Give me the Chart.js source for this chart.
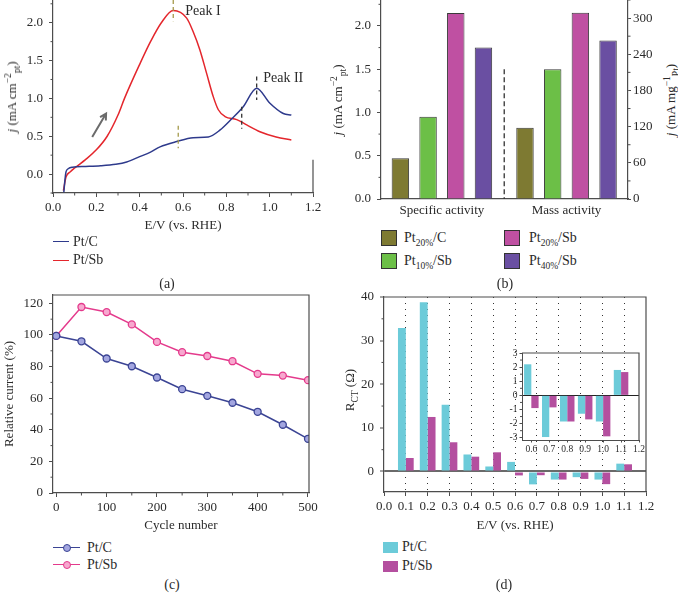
<!DOCTYPE html>
<html>
<head>
<meta charset="utf-8">
<title>Pt/Sb catalyst panels</title>
<script src="https://cdn.jsdelivr.net/npm/chart.js@4.4.1/dist/chart.umd.min.js"></script>
<style>
  body { margin: 0; background: #fff; }
  #fig { position: relative; width: 678px; height: 605px; overflow: hidden;
         font-family: 'Liberation Serif', 'DejaVu Serif', serif; color: #2b2b2b; }
  #fig canvas { position: absolute; }
  .lbl { position: absolute; white-space: nowrap; font-size: 14px; line-height: 16px; height: 16px; }
  .ytl { position: absolute; white-space: nowrap; font-size: 13px; line-height: 16px;
         transform: translate(-50%, -50%) rotate(-90deg); }
  .cap { position: absolute; font-size: 14px; transform: translate(-50%, -50%); }
  .sw { position: absolute; box-sizing: border-box; }
  sub, sup { font-size: 9.5px; line-height: 0; }
</style>
</head>
<body>
<div id="fig">
  <canvas id="chartA" width="330" height="236" style="left:0;top:0"></canvas>
  <canvas id="chartB" width="310" height="222" style="left:350px;top:0"></canvas>
  <canvas id="chartC" width="330" height="245" style="left:0;top:290px"></canvas>
  <canvas id="chartD" width="320" height="245" style="left:340px;top:290px"></canvas>
  <canvas id="chartInset" width="145" height="110" style="left:500px;top:345px"></canvas>

  <!-- axis titles with sub/superscripts -->
  <div class="ytl" style="left:12px;top:97px"><i>j</i> (mA cm<sup>−2</sup><sub>pt</sub>)</div>
  <div class="ytl" style="left:338px;top:100px"><i>j</i> (mA cm<sup>−2</sup><sub>pt</sub>)</div>
  <div class="ytl" style="left:671px;top:100px"><i>j</i> (mA mg<sup>−1</sup><sub>Pt</sub>)</div>
  <div class="ytl" style="left:350px;top:390px">R<sub>CT</sub> (Ω)</div>

  <!-- legend (a) -->
  <div class="sw" style="left:53px;top:241px;width:16px;height:0;border-top:1.5px solid #2e3a8c"></div>
  <div class="lbl" style="left:73px;top:234px">Pt/C</div>
  <div class="sw" style="left:53px;top:260px;width:16px;height:0;border-top:1.5px solid #e4262c"></div>
  <div class="lbl" style="left:73px;top:252px">Pt/Sb</div>

  <!-- legend (b) -->
  <div class="sw" style="left:381px;top:230px;width:16px;height:16px;background:#7e7a32;border:1px solid #333"></div>
  <div class="lbl" style="left:404px;top:230px">Pt<sub>20%</sub>/C</div>
  <div class="sw" style="left:381px;top:253px;width:16px;height:16px;background:#6cbf47;border:1px solid #333"></div>
  <div class="lbl" style="left:404px;top:253px">Pt<sub>10%</sub>/Sb</div>
  <div class="sw" style="left:504px;top:230px;width:16px;height:16px;background:#bf50a2;border:1px solid #333"></div>
  <div class="lbl" style="left:529px;top:230px">Pt<sub>20%</sub>/Sb</div>
  <div class="sw" style="left:504px;top:253px;width:16px;height:16px;background:#6a4fa2;border:1px solid #333"></div>
  <div class="lbl" style="left:529px;top:253px">Pt<sub>40%</sub>/Sb</div>

  <!-- legend (c) -->
  <div class="sw" style="left:53px;top:547px;width:27px;height:0;border-top:1.5px solid #3b4494"></div>
  <div class="sw" style="left:63px;top:544px;width:8px;height:8px;border-radius:50%;background:#a3a6e0;border:1.3px solid #3b4494"></div>
  <div class="lbl" style="left:87px;top:540px">Pt/C</div>
  <div class="sw" style="left:53px;top:564px;width:27px;height:0;border-top:1.5px solid #e43a8c"></div>
  <div class="sw" style="left:63px;top:561px;width:8px;height:8px;border-radius:50%;background:#f7a8cf;border:1.3px solid #e43a8c"></div>
  <div class="lbl" style="left:87px;top:557px">Pt/Sb</div>

  <!-- legend (d) -->
  <div class="sw" style="left:383px;top:542px;width:15px;height:11px;background:#6ccbd9"></div>
  <div class="lbl" style="left:402px;top:539px">Pt/C</div>
  <div class="sw" style="left:383px;top:561px;width:15px;height:11px;background:#b44f9f"></div>
  <div class="lbl" style="left:402px;top:558px">Pt/Sb</div>

  <!-- captions -->
  <div class="cap" style="left:167px;top:284px">(a)</div>
  <div class="cap" style="left:505px;top:284px">(b)</div>
  <div class="cap" style="left:172px;top:585px">(c)</div>
  <div class="cap" style="left:504px;top:585px">(d)</div>
</div>

<script>
// ---------- data ----------
// (a) linear sweep, E (V vs RHE) and j (mA cm-2 Pt)
var sweepPtC_E = [0.05, 0.055, 0.06, 0.07, 0.09, 0.15, 0.22, 0.29, 0.34, 0.4, 0.45, 0.494, 0.571, 0.647, 0.717, 0.77, 0.825, 0.878, 0.94, 1.0, 1.063, 1.1];
var sweepPtC_J = [-0.24, -0.08, 0.03, 0.07, 0.09, 0.1, 0.11, 0.13, 0.16, 0.23, 0.29, 0.36, 0.43, 0.48, 0.49, 0.58, 0.73, 0.89, 1.135, 0.94, 0.8, 0.78];
var sweepPtSb_E = [0.048, 0.06, 0.08, 0.1, 0.15, 0.2, 0.25, 0.3, 0.33, 0.4, 0.45, 0.5, 0.555, 0.617, 0.647, 0.678, 0.709, 0.74, 0.763, 0.794, 0.848, 0.894, 0.955, 1.03, 1.1];
var sweepPtSb_J = [-0.22, -0.04, 0.03, 0.08, 0.19, 0.32, 0.5, 0.78, 1.0, 1.45, 1.75, 2.0, 2.16, 2.06, 1.88, 1.64, 1.33, 1.02, 0.85, 0.76, 0.72, 0.65, 0.56, 0.49, 0.45];
// peak markers (dashed) and labels
var peakLineE = [0.555, 0.578, 0.871, 0.94];
var peakLineTop = [2.3, 0.64, 0.89, 1.29];
var peakLineBottom = [2.02, 0.34, 0.6, 0.98];
var peakNames = ['Peak I', 'Peak II'];
var peakNameE = [0.61, 0.97];
var peakNameJ = [2.15, 1.27];
var arrowE = [0.181, 0.245];
var arrowJ = [0.49, 0.8];

// (b) activities
var groupNames = ['Specific activity', 'Mass activity'];
var materials = ['Pt20%/C', 'Pt10%/Sb', 'Pt20%/Sb', 'Pt40%/Sb'];
var specificJ = [0.47, 0.95, 2.15, 1.75];   // mA cm-2 Pt
var massJ = [118, 215, 309, 263];           // mA mg-1 Pt
var dividerTop = 1.5;

// (c) stability
var cycles = [0, 50, 100, 150, 200, 250, 300, 350, 400, 450, 500];
var relPtC = [99.4, 96.0, 85.1, 80.2, 73.1, 65.7, 61.5, 57.1, 51.4, 43.2, 34.3];
var relPtSb = [99.4, 117.7, 114.5, 106.7, 95.6, 89.1, 86.7, 83.4, 75.4, 74.3, 71.4];

// (d) charge-transfer resistance
var potentials = [0.1, 0.2, 0.3, 0.4, 0.5, 0.6, 0.7, 0.8, 0.9, 1.0, 1.1];
var rctPtC = [32.9, 38.8, 15.3, 3.9, 1.15, 2.2, -2.95, -1.85, -1.3, -1.85, 1.8];
var rctPtSb = [3.1, 12.5, 6.7, 3.4, 4.4, -0.9, -0.85, -1.85, -1.7, -2.9, 1.65];

// ---------- helpers ----------
var SERIF = "'Liberation Serif', 'DejaVu Serif', serif";
var AX = '#4d4d4d';
var TXT = '#2b2b2b';
Chart.defaults.font.family = SERIF;
Chart.defaults.font.size = 13;
Chart.defaults.color = TXT;

function pts(xs, ys) {
  return xs.map(function(x, i) { return {x: x, y: ys[i]}; });
}

// fixed axis box size so the plot area lands where the figure has it
function fix(size) {
  return function(s) {
    if (s.isHorizontal()) s.height = size; else s.width = size;
    s.paddingLeft = 0; s.paddingRight = 0; s.paddingTop = 0; s.paddingBottom = 0;
  };
}

// ticks at every multiple of step inside the range
function stepTicks(step) {
  return function(s) {
    var out = [];
    for (var i = Math.ceil(s.min / step - 1e-9); i <= Math.floor(s.max / step + 1e-9); i++) {
      out.push({value: +(i * step).toFixed(6)});
    }
    s.ticks = out;
  };
}

function axis(extra) {
  var a = {
    type: 'linear',
    offset: false,
    grid: {display: true, drawOnChartArea: false, offset: false, tickLength: 4, tickColor: AX, tickWidth: 1},
    border: {color: AX, width: 1.2},
    ticks: {padding: 6, maxRotation: 0, minRotation: 0, autoSkip: false, color: TXT}
  };
  for (var k in extra) {
    if (typeof extra[k] === 'object' && a[k] && !Array.isArray(extra[k])) {
      for (var kk in extra[k]) a[k][kk] = extra[k][kk];
    } else {
      a[k] = extra[k];
    }
  }
  return a;
}

// small outward minor ticks
function makeMinor(steps, len) {
  return {
    id: 'minorTicks',
    afterDatasetsDraw: function(chart) {
      var ctx = chart.ctx, area = chart.chartArea;
      ctx.save();
      ctx.strokeStyle = AX;
      ctx.lineWidth = 1;
      Object.keys(steps).forEach(function(id) {
        var s = chart.scales[id], step = steps[id];
        for (var i = Math.ceil(s.min / step - 1e-9); i <= Math.floor(s.max / step + 1e-9); i++) {
          var v = i * step;
          if (s.ticks.some(function(t) { return Math.abs(t.value - v) < step / 100; })) continue;
          var p = s.getPixelForValue(v);
          ctx.beginPath();
          if (s.position === 'left') { ctx.moveTo(area.left, p); ctx.lineTo(area.left - len, p); }
          else if (s.position === 'right') { ctx.moveTo(area.right, p); ctx.lineTo(area.right + len, p); }
          else { ctx.moveTo(p, area.bottom); ctx.lineTo(p, area.bottom + len); }
          ctx.stroke();
        }
      });
      ctx.restore();
    }
  };
}

// top and right frame lines
var frameTR = {
  id: 'frameTR',
  afterDatasetsDraw: function(chart) {
    var ctx = chart.ctx, a = chart.chartArea;
    ctx.save();
    ctx.strokeStyle = AX;
    ctx.lineWidth = 1.2;
    ctx.beginPath();
    ctx.moveTo(a.left, a.top);
    ctx.lineTo(a.right, a.top);
    ctx.lineTo(a.right, a.bottom);
    ctx.stroke();
    ctx.restore();
  }
};

var base = {
  responsive: false,
  animation: false,
  events: []
};
function opts(o) {
  var r = {};
  for (var k in base) r[k] = base[k];
  for (var k2 in o) r[k2] = o[k2];
  return r;
}

// ---------- (a) ----------
var sweepNotes = {
  id: 'sweepNotes',
  afterDatasetsDraw: function(chart) {
    var ctx = chart.ctx, x = chart.scales.x, y = chart.scales.y, a = chart.chartArea;
    var dashColors = ['#a59b4c', '#a59b4c', '#333', '#333'];
    ctx.save();
    ctx.lineWidth = 1.3;
    ctx.setLineDash([4, 3]);
    peakLineE.forEach(function(e, i) {
      ctx.strokeStyle = dashColors[i];
      ctx.beginPath();
      ctx.moveTo(x.getPixelForValue(e), y.getPixelForValue(peakLineTop[i]));
      ctx.lineTo(x.getPixelForValue(e), y.getPixelForValue(peakLineBottom[i]));
      ctx.stroke();
    });
    ctx.setLineDash([]);
    ctx.fillStyle = TXT;
    ctx.font = '14px ' + SERIF;
    ctx.textBaseline = 'middle';
    peakNames.forEach(function(n, i) {
      ctx.fillText(n, x.getPixelForValue(peakNameE[i]), y.getPixelForValue(peakNameJ[i]));
    });
    // sweep direction arrow
    var x0 = x.getPixelForValue(arrowE[0]), y0 = y.getPixelForValue(arrowJ[0]);
    var x1 = x.getPixelForValue(arrowE[1]), y1 = y.getPixelForValue(arrowJ[1]);
    var ang = Math.atan2(y1 - y0, x1 - x0);
    ctx.strokeStyle = '#6b6b6b';
    ctx.lineWidth = 2;
    ctx.beginPath();
    ctx.moveTo(x0, y0); ctx.lineTo(x1, y1);
    ctx.moveTo(x1 - 7 * Math.cos(ang - 0.5), y1 - 7 * Math.sin(ang - 0.5));
    ctx.lineTo(x1, y1);
    ctx.lineTo(x1 - 7 * Math.cos(ang + 0.5), y1 - 7 * Math.sin(ang + 0.5));
    ctx.stroke();
    // short piece of right frame
    ctx.strokeStyle = AX;
    ctx.lineWidth = 1.2;
    ctx.beginPath();
    ctx.moveTo(a.right, y.getPixelForValue(0.19));
    ctx.lineTo(a.right, a.bottom);
    ctx.stroke();
    ctx.restore();
  }
};

new Chart(document.getElementById('chartA'), {
  type: 'line',
  data: {
    datasets: [
      {label: 'Pt/C', data: pts(sweepPtC_E, sweepPtC_J), borderColor: '#2e3a8c', borderWidth: 1.5,
       pointRadius: 0, pointHoverRadius: 0, cubicInterpolationMode: 'monotone'},
      {label: 'Pt/Sb', data: pts(sweepPtSb_E, sweepPtSb_J), borderColor: '#e4262c', borderWidth: 1.5,
       pointRadius: 0, pointHoverRadius: 0, cubicInterpolationMode: 'monotone'}
    ]
  },
  options: opts({
    layout: {padding: {top: 0, right: 17, bottom: 0, left: 0}, autoPadding: false},
    plugins: {legend: {display: false}, tooltip: {enabled: false}},
    scales: {
      x: axis({min: 0, max: 1.2, afterBuildTicks: stepTicks(0.2), afterFit: fix(43),
               ticks: {padding: 3, callback: function(v) { return v.toFixed(1); }},
               title: {display: true, text: 'E/V (vs. RHE)', padding: {top: 0, bottom: 3}}}),
      y: axis({min: -0.25, max: 2.3, afterBuildTicks: stepTicks(0.5), afterFit: fix(53),
               ticks: {callback: function(v) { return v.toFixed(1); }}})
    }
  }),
  plugins: [makeMinor({x: 0.1, y: 0.25}, 2.5), sweepNotes]
});

// ---------- (b) ----------
var barColors = ['#7e7a32', '#6cbf47', '#bf50a2', '#6a4fa2'];
var slotsSpecific = materials.map(function(m, i) { return i + 1; });
var slotsMass = materials.map(function(m, i) { return materials.length + 1.5 + i; });
var groupCenters = [(slotsSpecific[0] + slotsSpecific[3]) / 2, (slotsMass[0] + slotsMass[3]) / 2];

var groupDivider = {
  id: 'groupDivider',
  afterDatasetsDraw: function(chart) {
    var ctx = chart.ctx, x = chart.scales.x, y = chart.scales.y;
    var px = x.getPixelForValue((slotsSpecific[3] + slotsMass[0]) / 2);
    ctx.save();
    ctx.strokeStyle = '#333';
    ctx.lineWidth = 1.3;
    ctx.setLineDash([5, 3]);
    ctx.beginPath();
    ctx.moveTo(px, y.getPixelForValue(dividerTop));
    ctx.lineTo(px, y.getPixelForValue(0));
    ctx.stroke();
    ctx.restore();
  }
};

new Chart(document.getElementById('chartB'), {
  type: 'bar',
  data: {
    datasets: [
      {label: groupNames[0], data: pts(slotsSpecific, specificJ), yAxisID: 'y',
       backgroundColor: barColors, borderColor: '#3a3a3a', borderWidth: 1,
       grouped: false, barPercentage: 0.63, categoryPercentage: 1},
      {label: groupNames[1], data: pts(slotsMass, massJ), yAxisID: 'y2',
       backgroundColor: barColors, borderColor: '#3a3a3a', borderWidth: 1,
       grouped: false, barPercentage: 0.63, categoryPercentage: 1}
    ]
  },
  options: opts({
    layout: {padding: 0, autoPadding: false},
    plugins: {legend: {display: false}, tooltip: {enabled: false}},
    scales: {
      x: axis({min: 0.3, max: 9.22, afterFit: fix(23),
               afterBuildTicks: function(s) { s.ticks = groupCenters.map(function(v) { return {value: v}; }); },
               grid: {display: false, drawTicks: false},
               ticks: {padding: 4, callback: function(v, i) { return groupNames[i]; }}}),
      y: axis({position: 'left', min: 0, max: 2.3, afterBuildTicks: stepTicks(0.5), afterFit: fix(31),
               ticks: {callback: function(v) { return v.toFixed(1); }}}),
      y2: axis({position: 'right', min: 0, max: 330, afterBuildTicks: stepTicks(60), afterFit: fix(32),
                grid: {tickLength: 3}, ticks: {padding: 2}})
    }
  }),
  plugins: [makeMinor({y: 0.25, y2: 30}, 2.5), groupDivider]
});

// ---------- (c) ----------
new Chart(document.getElementById('chartC'), {
  type: 'line',
  data: {
    datasets: [
      {label: 'Pt/C', data: pts(cycles, relPtC), borderColor: '#3b4494', borderWidth: 1.5,
       pointRadius: 3.5, pointBorderWidth: 1.3, pointBackgroundColor: '#a3a6e0', pointBorderColor: '#3b4494',
       pointHoverRadius: 0, tension: 0},
      {label: 'Pt/Sb', data: pts(cycles, relPtSb), borderColor: '#e43a8c', borderWidth: 1.5,
       pointRadius: 3.5, pointBorderWidth: 1.3, pointBackgroundColor: '#f7a8cf', pointBorderColor: '#e43a8c',
       pointHoverRadius: 0, tension: 0}
    ]
  },
  options: opts({
    layout: {padding: {top: 5, right: 21, bottom: 0, left: 0}, autoPadding: false},
    plugins: {legend: {display: false}, tooltip: {enabled: false}},
    scales: {
      x: axis({min: -6.5, max: 502, afterBuildTicks: stepTicks(100), afterFit: fix(42),
               ticks: {padding: 3},
               title: {display: true, text: 'Cycle number', padding: {top: 0, bottom: 2}}}),
      y: axis({min: 0, max: 125.3, afterBuildTicks: stepTicks(20), afterFit: fix(53),
               title: {display: true, text: 'Relative current (%)', padding: {top: 2, bottom: 0}}})
    }
  }),
  plugins: [makeMinor({x: 50, y: 10}, 2.5), frameTR]
});

// ---------- (d) ----------
function rctDatasets() {
  return [
    {label: 'Pt/C', backgroundColor: '#6ccbd9', borderWidth: 0},
    {label: 'Pt/Sb', backgroundColor: '#b44f9f', borderWidth: 0}
  ];
}
var mainSets = rctDatasets();
mainSets[0].data = pts(potentials, rctPtC);
mainSets[1].data = pts(potentials, rctPtSb);

new Chart(document.getElementById('chartD'), {
  type: 'bar',
  data: {datasets: mainSets},
  options: opts({
    layout: {padding: {top: 7, right: 14, bottom: 0, left: 0}, autoPadding: false},
    datasets: {bar: {categoryPercentage: 0.72, barPercentage: 1}},
    plugins: {legend: {display: false}, tooltip: {enabled: false}},
    scales: {
      x: axis({min: 0, max: 1.2, afterBuildTicks: stepTicks(0.1), afterFit: fix(43),
               grid: {drawOnChartArea: true, lineWidth: 1,
                      color: function(c) { var v = c.tick && c.tick.value; return (v > 0.05 && v < 1.15) ? '#333' : 'rgba(0,0,0,0)'; }},
               border: {dash: [1, 5]},
               ticks: {padding: 3, callback: function(v) { return v.toFixed(1); }},
               title: {display: true, text: 'E/V (vs. RHE)', padding: {top: 0, bottom: 2}}}),
      y: axis({min: -4.7, max: 40, afterBuildTicks: stepTicks(10), afterFit: fix(44),
               grid: {drawOnChartArea: true, lineWidth: 2,
                      color: function(c) { return c.tick && c.tick.value === 0 ? '#6a6a6a' : 'rgba(0,0,0,0)'; }}})
    }
  }),
  plugins: [makeMinor({y: 5}, 2.5), frameTR]
});

// inset: zoom on 0.6 - 1.1 V
var insetFrom = potentials.findIndex(function(p) { return p >= 0.6; });
var insetSets = rctDatasets();
insetSets[0].data = pts(potentials.slice(insetFrom), rctPtC.slice(insetFrom));
insetSets[1].data = pts(potentials.slice(insetFrom), rctPtSb.slice(insetFrom));

new Chart(document.getElementById('chartInset'), {
  type: 'bar',
  data: {datasets: insetSets},
  options: opts({
    layout: {padding: {top: 8, right: 6, bottom: 0, left: 0}, autoPadding: false},
    datasets: {bar: {categoryPercentage: 0.81, barPercentage: 1}},
    plugins: {legend: {display: false}, tooltip: {enabled: false}},
    scales: {
      x: axis({min: 0.548, max: 1.2, afterBuildTicks: stepTicks(0.1), afterFit: fix(15),
               grid: {tickLength: 2.5}, border: {width: 1},
               ticks: {padding: 1, font: {size: 9.5}, callback: function(v) { return v.toFixed(1); }}}),
      y: axis({min: -3.16, max: 3, afterBuildTicks: stepTicks(1), afterFit: fix(22),
               grid: {drawOnChartArea: true, tickLength: 2.5, lineWidth: 1,
                      color: function(c) { return c.tick && c.tick.value === 0 ? '#222' : 'rgba(0,0,0,0)'; }},
               border: {width: 1},
               ticks: {padding: 2, font: {size: 9.5}}})
    }
  }),
  plugins: [makeMinor({y: 0.5}, 2), frameTR]
});
</script>
</body>
</html>
